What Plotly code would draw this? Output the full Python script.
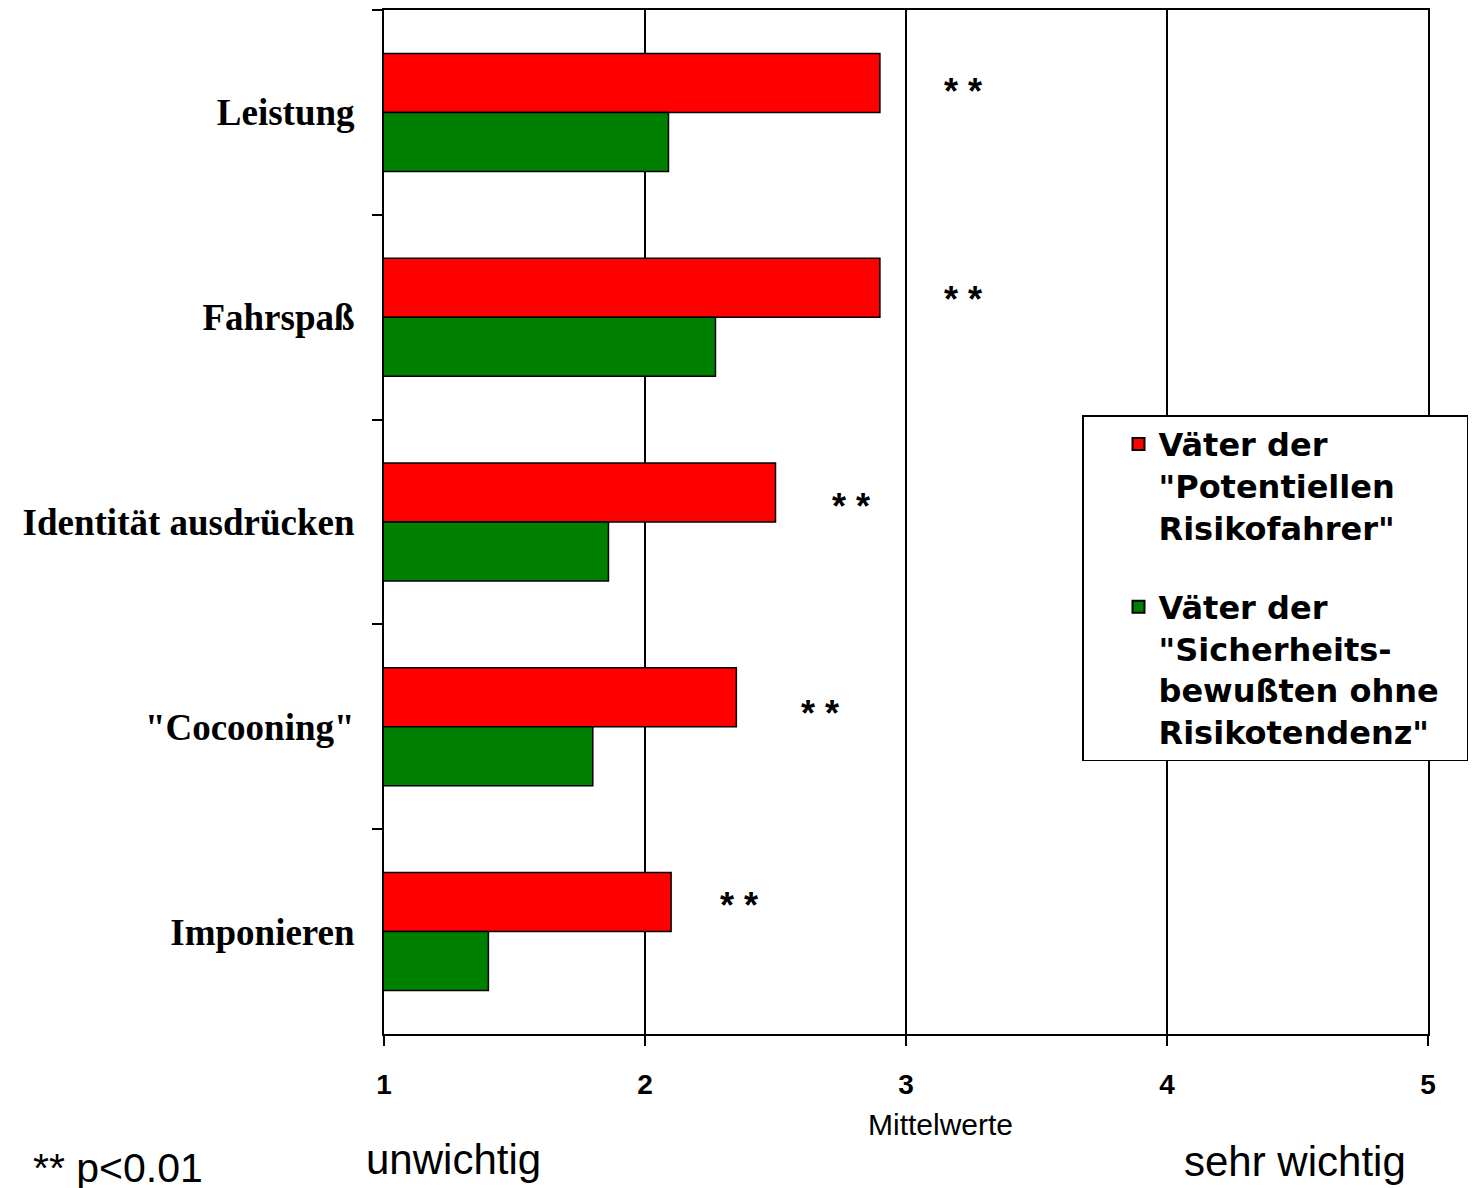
import plotly.graph_objects as go

categories = ["Leistung", "Fahrspaß", "Identität ausdrücken", '"Cocooning"', "Imponieren"]
risiko = [2.90, 2.90, 2.50, 2.35, 2.10]
sicher = [2.09, 2.27, 1.86, 1.80, 1.40]
star_x = [3.22, 3.22, 2.79, 2.67, 2.36]
star_text = ["**", "**", "**", "**", "**"]
name_risiko = 'Väter der<br>"Potentiellen<br>Risikofahrer"'
name_sicher = 'Väter der<br>"Sicherheits-<br>bewußten ohne&nbsp;&nbsp;<br>Risikotendenz"'

# page offset (body margin of 8px in the html page)
OFF = 8
W, H = 1481 - OFF, 1188 - OFF
L, R, T, B = 384, 1428, 8, 1034  # plot area in page pixels


def px(xp, yp):
    return (xp - L) / (R - L), (B - yp) / (B - T)


fig = go.Figure()
fig.add_trace(go.Bar(y=categories, x=risiko, orientation="h", name=name_risiko,
                     marker=dict(color="#ff0000", line=dict(color="black", width=1.5)),
                     legendgroup="a"))
fig.add_trace(go.Bar(y=categories, x=sicher, orientation="h", name=name_sicher,
                     marker=dict(color="#008000", line=dict(color="black", width=1.5)),
                     legendgroup="b"))

star_shift = [26, 23, 21, 18, 31]
for c, sx, st, ys in zip(categories, star_x, star_text, star_shift):
    fig.add_annotation(x=sx, y=c, text=" ".join(st), showarrow=False, yshift=ys - 5,
                       font=dict(family="Liberation Sans", size=36, color="black",
                                 weight="bold"))

for txt, xp, yp, size in [("Mittelwerte", 940, 1125, 30),
                          ("unwichtig", 453, 1160, 42),
                          ("sehr wichtig", 1295, 1162, 42),
                          ("** p&lt;0.01", 118, 1168, 41)]:
    ax, ay = px(xp, yp)
    fig.add_annotation(x=ax, y=ay, xref="paper", yref="paper", text=txt, showarrow=False,
                       xanchor="center", yanchor="middle",
                       font=dict(family="Liberation Sans", size=size, color="black"))

lx, ly = px(1082, 414)
fig.update_layout(
    width=W, height=H,
    margin=dict(l=L - OFF, r=W - (R - OFF), t=T - OFF, b=H - (B - OFF), pad=0),
    paper_bgcolor="white", plot_bgcolor="white",
    barmode="group", bargap=0.424, bargroupgap=0,
    showlegend=True,
    legend=dict(x=lx, y=ly, xanchor="left", yanchor="top",
                bordercolor="black", borderwidth=1.5, bgcolor="white",
                font=dict(family="DejaVu Sans", size=32, color="black", weight="bold"),
                traceorder="grouped", tracegroupgap=35, valign="top",
                indentation=35, itemsizing="constant"),
    xaxis=dict(range=[1, 5], tickvals=[1, 2, 3, 4, 5], showgrid=True, gridcolor="black",
               gridwidth=1.5, zeroline=False, showline=True, linecolor="black", linewidth=2,
               mirror=True, ticks="outside", ticklen=10, tickcolor="black", tickwidth=1.5,
               ticklabelstandoff=14,
               tickfont=dict(family="Liberation Sans", size=28, color="black", weight="bold")),
    yaxis=dict(autorange="reversed", type="category", showgrid=False, showline=True,
               linecolor="black", linewidth=2, mirror=True, ticks="outside", ticklen=10,
               tickcolor="black", tickwidth=1.5, tickson="boundaries",
               ticklabelstandoff=20,
               tickfont=dict(family="Liberation Serif", size=37, color="black", weight="bold")),
)

fig.write_html("out.html")
